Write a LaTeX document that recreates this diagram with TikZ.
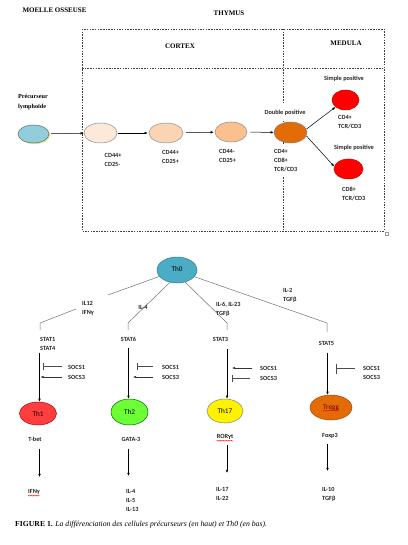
\documentclass[tikz,border=0pt]{standalone}
\usepackage{fontspec}
\setmainfont{Liberation Serif}
\newfontfamily\carl{Carlito}
\usetikzlibrary{shapes.geometric,arrows.meta,decorations.pathmorphing}
\definecolor{cBlue}{HTML}{92CDDC}
\definecolor{cPeach1}{HTML}{FDE9D9}
\definecolor{cPeach2}{HTML}{FBD4B4}
\definecolor{cPeach3}{HTML}{FAC090}
\definecolor{cOrange}{HTML}{E36C09}
\definecolor{cTeal}{HTML}{4BACC6}
\definecolor{cThA}{HTML}{FF3F3F}
\definecolor{cThB}{HTML}{6CFF36}
\begin{document}
\begin{tikzpicture}[x=1pt,y=-1pt,
  lab/.style={font=\carl\bfseries\fontsize{6.3}{9}\selectfont, inner sep=0pt, align=left, text=black!85},
  ttl/.style={font=\bfseries\fontsize{7}{10}\selectfont, inner sep=0pt, align=left},
  cell/.style={ellipse, inner sep=0pt, line width=0.5pt},
  celltxt/.style={font=\carl\fontsize{7.2}{8}\selectfont},
  arr/.style={-{Latex[length=3.2pt,width=2.6pt]}, line width=0.5pt},
  inh/.style={-{Bar[width=7pt]}, line width=0.5pt, black!70},
  arrs/.style={-{Latex[length=3.2pt,width=2.6pt]}, line width=0.5pt, black!80},
  br/.style={line width=0.5pt, black!55},
  dsh/.style={dash pattern=on 1.5pt off 1.2pt, line width=0.5pt, black!75},
  squig/.style={red, line width=0.35pt, decorate, decoration={snake, amplitude=0.35pt, segment length=1.6pt}}]

\useasboundingbox[fill=white] (0,0) rectangle (407,545);

% ---------- top: titles and frame ----------
\node[ttl] (moelle) at (54.5,10) {MOELLE OSSEUSE};
\node[ttl] (thymus) at (229,13) {THYMUS};
\node[ttl] (cortex) at (180,46) {CORTEX};
\node[ttl] (medula) at (346,43) {MEDULA};
\node[ttl, font=\bfseries\fontsize{6.2}{10}\selectfont, anchor=north west] (prec) at (18,93.5) {Précurseur\\lymphoïde};

\coordinate (fa) at (82,29);
\coordinate (fb) at (384,231);
\draw[dsh] (fa) rectangle (fb);
\coordinate (va) at (283,29);
\coordinate (vb) at (283,231);
\draw[dsh] (va) -- (vb);
\coordinate (ha) at (82,68);
\coordinate (hb) at (384,68);
\draw[dsh] (ha) -- (hb);
\node[draw=black!40, line width=0.3pt, minimum size=2.5pt, inner sep=0pt] (handle) at (386.5,233.5) {};

% ---------- top: cells ----------
\node[cell, fill=yellow!60!green!50, draw=none, minimum width=31pt, minimum height=18pt] (p0s) at (34.5,135) {};
\node[cell, fill=cBlue, draw=black!60, minimum width=31pt, minimum height=18pt] (p0) at (33.5,134) {};
\node[cell, fill=cPeach1, draw=black!45, minimum width=33pt, minimum height=20pt] (p1) at (100.5,133) {};
\node[cell, fill=cPeach2, draw=black!45, minimum width=34pt, minimum height=20pt] (p2) at (166,133) {};
\node[cell, fill=cPeach3, draw=black!45, minimum width=32pt, minimum height=20pt] (p3) at (231,132) {};

\node[lab, fill=white, minimum height=17pt, minimum width=46pt, text depth=0pt] (dp) at (285,112.5) {Double positive};
\node[lab, fill=white, anchor=north west, inner xsep=0.5pt, inner ysep=4pt] (l4) at (273.5,145) {CD4+\\CD8+\\TCR/CD3};
\node[cell, fill=cOrange, draw=black!50, minimum width=33pt, minimum height=21pt] (p4) at (290.5,132.5) {};
\node[cell, fill=red, draw=red!80!black, minimum width=27pt, minimum height=20pt] (sp1) at (345.5,100) {};
\node[cell, fill=red, draw=red!80!black, minimum width=29pt, minimum height=20pt] (sp2) at (348.5,169) {};

\draw[arr, shorten <=2pt] (p0) -- (p1);
\draw[arr, shorten <=1pt, shorten >=1pt] (p1) -- (p2);
\draw[arr, shorten <=3pt, shorten >=1pt] (p2) -- (p3);
\draw[arr, shorten <=3pt] (p3) -- (p4);
\draw[arr] (p4.12) -- (sp1.215);
\draw[arr] (p4.-12) -- (sp2.170);

\node[lab, anchor=north west] (l1) at (104.5,153) {CD44+\\CD25-};
\node[lab, anchor=north west] (l2) at (162,150) {CD44+\\CD25+};
\node[lab, anchor=north west] (l3) at (219,149) {CD44-\\CD25+};
\node[lab] (spl1) at (344,79) {Simple positive};
\node[lab, anchor=north west] (l5) at (338,115) {CD4+\\TCR/CD3};
\node[lab] (spl2) at (354,148) {Simple positive};
\node[lab, anchor=north west] (l6) at (342,187) {CD8+\\TCR/CD3};

% ---------- bottom: Th0 and branches ----------
\node[cell, fill=cTeal, draw=cTeal!70!black, minimum width=40pt, minimum height=26pt, celltxt] (th0) at (177,270) {\raisebox{2pt}{Th0}};

% Th1 branch
\coordinate (a1) at (108,295);
\coordinate (a2) at (76,309);
\coordinate (a3) at (40,323);
\coordinate (a4) at (40,330);
\draw[br] (th0.200) -- (a1);
\draw[br] (a2) -- (a3) -- (a4);
\node[lab, anchor=north west] (il12) at (82,301) {IL12\\IFNγ};
\node[lab, anchor=north west] (stat1) at (40,337) {STAT1\\STAT4};
\node[cell, fill=cThA, draw=red!70!black, minimum width=37pt, minimum height=23pt, celltxt] (th1) at (38,413.5) {Th1};
\coordinate (a5) at (39.5,353);
\draw[arr] (a5) -- (a5 |- th1.north);
\node[lab, anchor=west] (s11) at (68,367) {SOCS1};
\node[lab, anchor=west] (s13) at (68,377) {SOCS3};
\coordinate (b11) at (43,366);
\coordinate (b13) at (40.5,377);
\draw[inh, shorten <=6pt] (s11.west |- b11) -- (b11);
\draw[arrs, shorten <=6pt] (s13.west) -- (b13);

% Th2 branch
\coordinate (c1) at (128,323);
\coordinate (c2) at (128,330);
\draw[br] (th0.240) -- (c1) -- (c2);
\node[lab] (il4) at (143,307) {IL-4};
\node[lab] (stat6) at (128.5,339) {STAT6};
\node[cell, fill=cThB, draw=green!40!black, minimum width=37pt, minimum height=26pt, celltxt] (th2) at (129.5,412) {Th2};
\coordinate (c5) at (128.5,348);
\draw[arr] (c5) -- (c5 |- th2.north);
\node[lab, anchor=west] (s21) at (162,367) {SOCS1};
\node[lab, anchor=west] (s23) at (162,377) {SOCS3};
\coordinate (b21) at (137,366);
\coordinate (b23) at (133,377);
\draw[inh, shorten <=9pt] (s21.west |- b21) -- (b21);
\draw[arrs, shorten <=9pt] (s23.west) -- (b23);

% Th17 branch
\coordinate (d1) at (227,323);
\coordinate (d2) at (227,330);
\draw[br] (th0.304) -- (d1) -- (d2);
\node[lab, anchor=north west] (il6) at (216,302) {IL-6, IL-23\\TGFβ};
\node[lab] (stat3) at (220.5,339) {STAT3};
\node[cell, fill=yellow, draw=black!50, minimum width=36pt, minimum height=24pt, celltxt] (th17) at (225,411) {Th17};
\coordinate (d5) at (227,349);
\draw[arr] (d5) -- (d5 |- th17.north);
\node[lab, anchor=west] (s31) at (260,368) {SOCS1};
\node[lab, anchor=west] (s33) at (260,378) {SOCS3};
\coordinate (b31) at (232,368);
\coordinate (b33) at (232,378);
\draw[arrs, shorten <=8pt] (s31.west) -- (b31);
\draw[inh, shorten <=10pt] (s33.west) -- (b33);

% Tregg branch
\coordinate (e1) at (327,323);
\coordinate (e2) at (327,332);
\draw[br] (th0.339) -- (e1) -- (e2);
\node[lab, anchor=north west] (il2) at (283,288) {IL-2\\TGFβ};
\node[lab] (stat5) at (326.5,343) {STAT5};
\node[cell, fill=cOrange, draw=cOrange!70!black, minimum width=42pt, minimum height=25pt, celltxt, text=red!40!black] (treg) at (331,407.5) {\raisebox{1.5pt}{Tregg}};
\coordinate (e5) at (327.5,353);
\draw[arr] (e5) -- (e5 |- treg.north);
\draw[squig] ([shift={(-8,3.2)}]treg.center) -- ([shift={(8,3.2)}]treg.center);
\node[lab, anchor=west] (s41) at (363,368) {SOCS1};
\node[lab, anchor=west] (s43) at (363,377) {SOCS3};
\coordinate (b41) at (335.5,368.5);
\draw[inh, -{Bar[width=10pt]}, shorten <=8pt] (s41.west |- b41) -- (b41);

% ---------- bottom: transcription factors and cytokines ----------
\node[lab] (tbet) at (35,439) {T-bet};
\node[lab, anchor=west] (ifng) at (28,492) {IFNγ};
\draw[squig] ([yshift=-1pt]ifng.south west) -- ([yshift=-1pt]ifng.south east);
\coordinate (f1) at (39.5,449);
\coordinate (f2) at (39.5,477);
\draw[arr] (f1) -- (f2);

\node[lab] (gata) at (131,439) {GATA-3};
\node[lab, anchor=north west] (il45) at (126,489) {IL-4\\IL-5\\IL-13};
\coordinate (g1) at (128.5,449);
\coordinate (g2) at (128.5,476);
\draw[arr] (g1) -- (g2);

\node[lab] (ror) at (225,437) {RORγt};
\draw[squig] ([yshift=-1pt]ror.south west) -- ([yshift=-1pt]ror.south east);
\node[lab, anchor=north west] (il17) at (216,487) {IL-17\\IL-22};
\coordinate (h1) at (227,445);
\coordinate (h2) at (227,473);
\draw[arr] (h1) -- (h2);

\node[lab] (foxp) at (330,436) {Foxp3};
\node[lab, anchor=north west] (il10) at (322,487) {IL-10\\TGFβ};
\coordinate (k1) at (327.5,444);
\coordinate (k2) at (327.5,471);
\draw[arr] (k1) -- (k2);

% ---------- caption ----------
\node[anchor=west, inner sep=0pt, font=\fontsize{7.7}{9}\selectfont] (cap) at (15,525)
  {\textbf{FIGURE 1.} \textit{La différenciation des cellules précurseurs (en haut) et Th0 (en bas).}};
\end{tikzpicture}
\end{document}
